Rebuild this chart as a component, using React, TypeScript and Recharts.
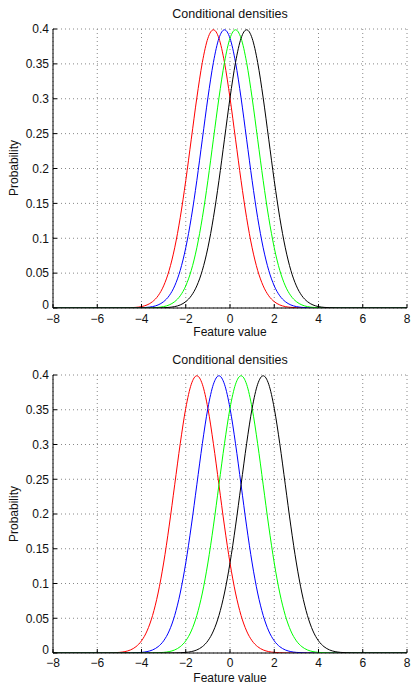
import { LineChart, Line, XAxis, YAxis, CartesianGrid } from "recharts";

// feature value grid (x), step 0.25
const featureValues = [
  -8, -7.75, -7.5, -7.25, -7, -6.75, -6.5, -6.25, -6, -5.75, -5.5, -5.25, -5,
  -4.75, -4.5, -4.25, -4, -3.75, -3.5, -3.25, -3, -2.75, -2.5, -2.25, -2, -1.75,
  -1.5, -1.25, -1, -0.75, -0.5, -0.25, 0, 0.25, 0.5, 0.75, 1, 1.25, 1.5, 1.75, 2,
  2.25, 2.5, 2.75, 3, 3.25, 3.5, 3.75, 4, 4.25, 4.5, 4.75, 5, 5.25, 5.5, 5.75, 6,
  6.25, 6.5, 6.75, 7, 7.25, 7.5, 7.75, 8,
];

// top panel: class means close together
const topRed = [
  0, 0, 0, 0, 0, 0, 0, 0, 0, 0, 0, 0, 0,
  0.0001, 0.0004, 0.0009, 0.002, 0.0044, 0.0091, 0.0175, 0.0317, 0.054, 0.0863, 0.1295, 0.1826, 0.242, 0.3011, 0.3521, 0.3867, 0.3989, 0.3867, 0.3521, 0.3011, 0.242, 0.1826, 0.1295, 0.0863, 0.054, 0.0317, 0.0175, 0.0091, 0.0044, 0.002, 0.0009, 0.0004, 0.0001,
  0, 0, 0, 0, 0, 0, 0, 0, 0, 0, 0, 0, 0, 0, 0, 0, 0, 0, 0,
];
const topBlue = [
  0, 0, 0, 0, 0, 0, 0, 0, 0, 0, 0, 0, 0, 0, 0,
  0.0001, 0.0004, 0.0009, 0.002, 0.0044, 0.0091, 0.0175, 0.0317, 0.054, 0.0863, 0.1295, 0.1826, 0.242, 0.3011, 0.3521, 0.3867, 0.3989, 0.3867, 0.3521, 0.3011, 0.242, 0.1826, 0.1295, 0.0863, 0.054, 0.0317, 0.0175, 0.0091, 0.0044, 0.002, 0.0009, 0.0004, 0.0001,
  0, 0, 0, 0, 0, 0, 0, 0, 0, 0, 0, 0, 0, 0, 0, 0, 0,
];
const topGreen = [
  0, 0, 0, 0, 0, 0, 0, 0, 0, 0, 0, 0, 0, 0, 0, 0, 0,
  0.0001, 0.0004, 0.0009, 0.002, 0.0044, 0.0091, 0.0175, 0.0317, 0.054, 0.0863, 0.1295, 0.1826, 0.242, 0.3011, 0.3521, 0.3867, 0.3989, 0.3867, 0.3521, 0.3011, 0.242, 0.1826, 0.1295, 0.0863, 0.054, 0.0317, 0.0175, 0.0091, 0.0044, 0.002, 0.0009, 0.0004, 0.0001,
  0, 0, 0, 0, 0, 0, 0, 0, 0, 0, 0, 0, 0, 0, 0,
];
const topBlack = [
  0, 0, 0, 0, 0, 0, 0, 0, 0, 0, 0, 0, 0, 0, 0, 0, 0, 0, 0,
  0.0001, 0.0004, 0.0009, 0.002, 0.0044, 0.0091, 0.0175, 0.0317, 0.054, 0.0863, 0.1295, 0.1826, 0.242, 0.3011, 0.3521, 0.3867, 0.3989, 0.3867, 0.3521, 0.3011, 0.242, 0.1826, 0.1295, 0.0863, 0.054, 0.0317, 0.0175, 0.0091, 0.0044, 0.002, 0.0009, 0.0004, 0.0001,
  0, 0, 0, 0, 0, 0, 0, 0, 0, 0, 0, 0, 0,
];

// bottom panel: class means spread apart
const bottomRed = [
  0, 0, 0, 0, 0, 0, 0, 0, 0, 0,
  0.0001, 0.0004, 0.0009, 0.002, 0.0044, 0.0091, 0.0175, 0.0317, 0.054, 0.0863, 0.1295, 0.1826, 0.242, 0.3011, 0.3521, 0.3867, 0.3989, 0.3867, 0.3521, 0.3011, 0.242, 0.1826, 0.1295, 0.0863, 0.054, 0.0317, 0.0175, 0.0091, 0.0044, 0.002, 0.0009, 0.0004, 0.0001,
  0, 0, 0, 0, 0, 0, 0, 0, 0, 0, 0, 0, 0, 0, 0, 0, 0, 0, 0, 0, 0, 0,
];
const bottomBlue = [
  0, 0, 0, 0, 0, 0, 0, 0, 0, 0, 0, 0, 0, 0,
  0.0001, 0.0004, 0.0009, 0.002, 0.0044, 0.0091, 0.0175, 0.0317, 0.054, 0.0863, 0.1295, 0.1826, 0.242, 0.3011, 0.3521, 0.3867, 0.3989, 0.3867, 0.3521, 0.3011, 0.242, 0.1826, 0.1295, 0.0863, 0.054, 0.0317, 0.0175, 0.0091, 0.0044, 0.002, 0.0009, 0.0004, 0.0001,
  0, 0, 0, 0, 0, 0, 0, 0, 0, 0, 0, 0, 0, 0, 0, 0, 0, 0,
];
const bottomGreen = [
  0, 0, 0, 0, 0, 0, 0, 0, 0, 0, 0, 0, 0, 0, 0, 0, 0, 0,
  0.0001, 0.0004, 0.0009, 0.002, 0.0044, 0.0091, 0.0175, 0.0317, 0.054, 0.0863, 0.1295, 0.1826, 0.242, 0.3011, 0.3521, 0.3867, 0.3989, 0.3867, 0.3521, 0.3011, 0.242, 0.1826, 0.1295, 0.0863, 0.054, 0.0317, 0.0175, 0.0091, 0.0044, 0.002, 0.0009, 0.0004, 0.0001,
  0, 0, 0, 0, 0, 0, 0, 0, 0, 0, 0, 0, 0, 0,
];
const bottomBlack = [
  0, 0, 0, 0, 0, 0, 0, 0, 0, 0, 0, 0, 0, 0, 0, 0, 0, 0, 0, 0, 0, 0,
  0.0001, 0.0004, 0.0009, 0.002, 0.0044, 0.0091, 0.0175, 0.0317, 0.054, 0.0863, 0.1295, 0.1826, 0.242, 0.3011, 0.3521, 0.3867, 0.3989, 0.3867, 0.3521, 0.3011, 0.242, 0.1826, 0.1295, 0.0863, 0.054, 0.0317, 0.0175, 0.0091, 0.0044, 0.002, 0.0009, 0.0004, 0.0001,
  0, 0, 0, 0, 0, 0, 0, 0, 0, 0,
];

const xTicks = [-8, -6, -4, -2, 0, 2, 4, 6, 8];
const yTicks = [0, 0.05, 0.1, 0.15, 0.2, 0.25, 0.3, 0.35, 0.4];

const series = [
  { key: "red", color: "#ff0000" },
  { key: "blue", color: "#0000ff" },
  { key: "green", color: "#00ff00" },
  { key: "black", color: "#000000" },
];

const FONT = "'Liberation Sans', Arial, Helvetica, sans-serif";

function buildRows(red: number[], blue: number[], green: number[], black: number[]) {
  return featureValues.map((x, i) => ({ x, red: red[i], blue: blue[i], green: green[i], black: black[i] }));
}

const topRows = buildRows(topRed, topBlue, topGreen, topBlack);
const bottomRows = buildRows(bottomRed, bottomBlue, bottomGreen, bottomBlack);

const fmtX = (v: number) => (v < 0 ? `\u2212${-v}` : `${v}`);
const fmtY = (v: number) => `${Number(v.toFixed(2))}`;

const tickStyle = { fontSize: 12, fill: "#111", fontFamily: FONT };

// y tick label: the "0" sits a touch higher so it clears the x labels
function YTick(props: any) {
  const { x, y, payload } = props;
  const dy = payload.value === 0 ? -3 : 0;
  return (
    <text x={x} y={y + dy} dy="0.355em" textAnchor="end" {...tickStyle}>
      {fmtY(payload.value)}
    </text>
  );
}

function Panel({
  rows,
  height,
  marginBottom,
  xTickMargin,
}: {
  rows: any[];
  height: number;
  marginBottom: number;
  xTickMargin: number;
}) {
  return (
    <LineChart
      width={411}
      height={height}
      data={rows}
      margin={{ top: 29, right: 4, bottom: marginBottom, left: 8 }}
    >
      <CartesianGrid stroke="#888" strokeDasharray="1 3" strokeWidth={1} />
      <XAxis
        dataKey="x"
        type="number"
        domain={[-8, 8]}
        ticks={xTicks}
        tickFormatter={fmtX}
        height={29}
        tickSize={-4}
        tickMargin={xTickMargin}
        stroke="#000"
        tick={tickStyle}
        allowDataOverflow
      />
      <XAxis
        xAxisId="top"
        orientation="top"
        dataKey="x"
        type="number"
        domain={[-8, 8]}
        ticks={xTicks}
        height={0}
        tickSize={-4}
        tick={false}
        stroke="#000"
      />
      <YAxis
        type="number"
        domain={[0, 0.4]}
        ticks={yTicks}
        width={45}
        tickSize={-4}
        tickMargin={8}
        stroke="#000"
        tick={<YTick />}
        allowDataOverflow
      />
      <YAxis
        yAxisId="right"
        orientation="right"
        type="number"
        domain={[0, 0.4]}
        ticks={yTicks}
        width={0}
        tickSize={-4}
        tick={false}
        stroke="#000"
      />
      {series.map((s) => (
        <Line
          key={s.key}
          dataKey={s.key}
          stroke={s.color}
          strokeWidth={1}
          dot={false}
          type="monotone"
          isAnimationActive={false}
        />
      ))}
    </LineChart>
  );
}

const labelStyle: React.CSSProperties = {
  position: "absolute",
  fontFamily: FONT,
  fontSize: 12,
  color: "#111",
  whiteSpace: "nowrap",
  lineHeight: "12px",
};

function Titles({ top, xLabelTop }: { top: number; xLabelTop: number }) {
  return (
    <>
      <div style={{ ...labelStyle, fontSize: 12.5, left: 53, width: 354, textAlign: "center", top: top + 8 }}>
        Conditional densities
      </div>
      <div style={{ ...labelStyle, left: 53, width: 354, textAlign: "center", top: top + xLabelTop }}>
        Feature value
      </div>
      <div
        style={{
          ...labelStyle,
          left: 14 - 60,
          width: 120,
          textAlign: "center",
          top: top + 162,
          transform: "rotate(-90deg)",
        }}
      >
        Probability
      </div>
    </>
  );
}

export default function App() {
  return (
    <div
      style={{
        position: "absolute",
        left: 0,
        top: 0,
        width: 411,
        height: 684,
        background: "#fff",
        overflow: "hidden",
      }}
    >
      <div style={{ position: "absolute", left: 0, top: 0 }}>
        <Panel rows={topRows} height={346} marginBottom={9} xTickMargin={10} />
      </div>
      <div style={{ position: "absolute", left: 0, top: 346 }}>
        <Panel rows={bottomRows} height={338} marginBottom={2} xTickMargin={9} />
      </div>
      <Titles top={0} xLabelTop={326} />
      <Titles top={346} xLabelTop={326} />
    </div>
  );
}
